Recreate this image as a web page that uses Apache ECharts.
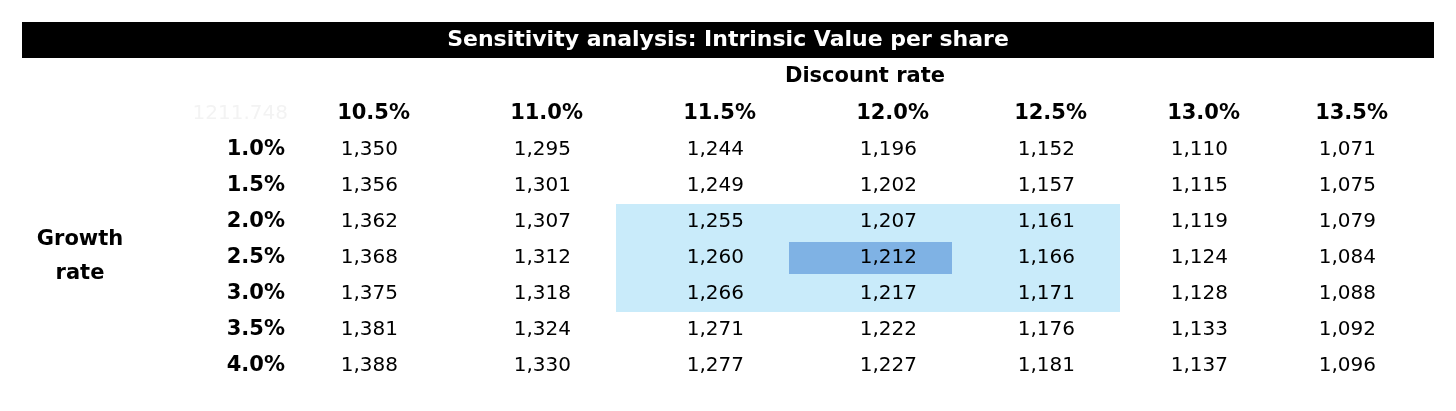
<!DOCTYPE html>
<html><head><meta charset="utf-8">
<script src="https://cdn.jsdelivr.net/npm/echarts@6/dist/echarts.min.js"></script>
<style>html,body{margin:0;background:#fff}#c{width:1456px;height:411px}</style>
</head><body><div id="c"></div>
<script>
var discountRates = ['10.5%', '11.0%', '11.5%', '12.0%', '12.5%', '13.0%', '13.5%'];
var growthRates = ['1.0%', '1.5%', '2.0%', '2.5%', '3.0%', '3.5%', '4.0%'];
var values = [
  [1350, 1295, 1244, 1196, 1152, 1110, 1071],
  [1356, 1301, 1249, 1202, 1157, 1115, 1075],
  [1362, 1307, 1255, 1207, 1161, 1119, 1079],
  [1368, 1312, 1260, 1212, 1166, 1124, 1084],
  [1375, 1318, 1266, 1217, 1171, 1128, 1088],
  [1381, 1324, 1271, 1222, 1176, 1133, 1092],
  [1388, 1330, 1277, 1227, 1181, 1137, 1096]
];
var baseValue = '1211.748';
var labelDist = [50, 45, 40, 35, 45, 60, 80];

var fmt = function(v) { return v.toLocaleString('en-US'); };
var font = 'DejaVu Sans';
var rows = ['hdr'].concat(growthRates);
var data = [];
// [col, row, text, kind] kind: 0 header, 1 plain, 2 light, 3 centre
discountRates.forEach(function(d, j) { data.push([j, 0, d, 0]); });
values.forEach(function(row, i) {
  row.forEach(function(v, j) {
    var hl = i >= 2 && i <= 4 && j >= 2 && j <= 4;
    data.push([j, i + 1, fmt(v), (i === 3 && j === 3) ? 3 : (hl ? 2 : 1)]);
  });
});

function renderCell(params, api) {
  var j = api.value(0), kind = api.value(3);
  var p = api.coord([j, api.value(1)]);
  var s = api.size([1, 1]);
  var x0 = p[0] - s[0] / 2, y0 = p[1] - s[1] / 2;
  var children = [];
  if (kind >= 2) {
    children.push({ type: 'rect', shape: { x: x0, y: y0, width: s[0], height: s[1] },
      style: { fill: '#c9ebfa' } });
  }
  if (kind === 3) {
    children.push({ type: 'rect', shape: { x: x0 + 5, y: y0 + 2, width: s[0] + 10, height: s[1] - 4 },
      style: { fill: '#7fb2e4' } });
  }
  var dist = labelDist[j] - (kind === 0 ? 12 : 0);
  children.push({ type: 'text', x: x0 + s[0] - dist, y: p[1], style: {
    text: api.value(2), fill: '#000', align: 'right', verticalAlign: 'middle',
    font: (kind === 0 ? 'bold 21px ' : '20px ') + font } });
  return { type: 'group', children: children };
}

var chart = echarts.init(document.getElementById('c'));
chart.setOption({
  animation: false,
  grid: { left: 280, top: 96, width: 1190, height: 288 },
  xAxis: { type: 'category', data: discountRates, show: false },
  yAxis: { type: 'category', data: rows, inverse: true,
    axisLine: { show: false }, axisTick: { show: false },
    axisLabel: { margin: -5, fontFamily: font, fontWeight: 'bold', fontSize: 21, color: '#000',
      formatter: function(v) { return v === 'hdr' ? '' : v; } } },
  series: [{
    type: 'custom', data: data, renderItem: renderCell,
    encode: { x: 0, y: 1 }, clip: false
  }],
  graphic: [
    { type: 'rect', shape: { x: 22, y: 22, width: 1412, height: 36 }, style: { fill: '#000' } },
    { type: 'text', x: 728, y: 40, style: { text: 'Sensitivity analysis: Intrinsic Value per share',
      fill: '#fff', font: 'bold 22px ' + font, align: 'center', verticalAlign: 'middle' } },
    { type: 'text', x: 865, y: 77, style: { text: 'Discount rate', fill: '#000',
      font: 'bold 21px ' + font, align: 'center', verticalAlign: 'middle' } },
    { type: 'text', x: 80, y: 257, style: { text: 'Growth\nrate', fill: '#000', lineHeight: 34,
      font: 'bold 21px ' + font, align: 'center', verticalAlign: 'middle' } },
    { type: 'text', x: 288, y: 114, style: { text: baseValue, fill: '#f3f3f3',
      font: '20px ' + font, align: 'right', verticalAlign: 'middle' } }
  ]
});
</script></body></html>
